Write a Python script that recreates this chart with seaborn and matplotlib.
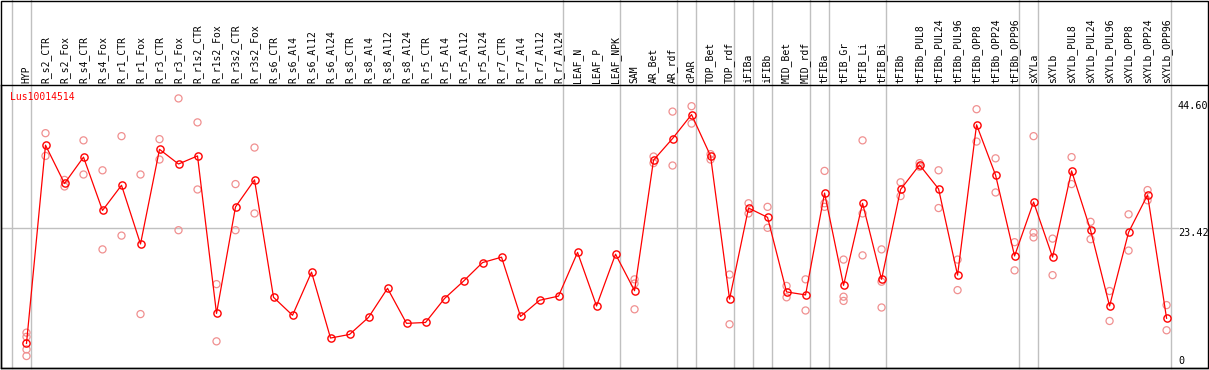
import matplotlib
matplotlib.use("Agg")
import matplotlib.pyplot as plt
from matplotlib.patches import Rectangle
import seaborn as sns
import pandas as pd

###############################################################################
# Data
###############################################################################

samples = [
    "HYP", "R_s2_CTR", "R_s2_Fox", "R_s4_CTR", "R_s4_Fox", "R_r1_CTR", "R_r1_Fox",
    "R_r3_CTR", "R_r3_Fox", "R_r1s2_CTR", "R_r1s2_Fox", "R_r3s2_CTR", "R_r3s2_Fox",
    "R_s6_CTR", "R_s6_Al4", "R_s6_Al12", "R_s6_Al24", "R_s8_CTR", "R_s8_Al4",
    "R_s8_Al12", "R_s8_Al24", "R_r5_CTR", "R_r5_Al4", "R_r5_Al12", "R_r5_Al24",
    "R_r7_CTR", "R_r7_Al4", "R_r7_Al12", "R_r7_Al24", "LEAF_N", "LEAF_P", "LEAF_NPK",
    "SAM", "AR_Bet", "AR_rdf", "cPAR", "TOP_Bet", "TOP_rdf", "iFIBa", "iFIBb",
    "MID_Bet", "MID_rdf", "tFIBa", "tFIB_Gr", "tFIB_Li", "tFIB_Bi", "tFIBb",
    "tFIBb_PUL8", "tFIBb_PUL24", "tFIBb_PUL96", "tFIBb_OPP8", "tFIBb_OPP24",
    "tFIBb_OPP96", "sXYLa", "sXYLb", "sXYLb_PUL8", "sXYLb_PUL24", "sXYLb_PUL96",
    "sXYLb_OPP8", "sXYLb_OPP24", "sXYLb_OPP96",
]

mean_expr = [
    4.1, 37.2, 30.8, 35.2, 26.3, 30.5, 20.7, 36.5, 34.05, 35.4, 9.1, 26.9, 31.4,
    11.8, 8.8, 16.0, 5.0, 5.6, 8.45, 13.3, 7.45, 7.6, 11.6, 14.5, 17.6, 18.5,
    8.6, 11.3, 12.0, 19.3, 10.35, 19.0, 12.9, 34.7, 38.3, 42.3, 35.4, 11.5,
    26.7, 25.15, 12.7, 12.2, 29.2, 13.8, 27.5, 14.8, 29.8, 33.9, 29.9, 15.5,
    40.6, 32.2, 18.7, 27.7, 18.5, 32.9, 23.0, 10.35, 22.65, 28.9, 8.3,
]

replicates = [
    [5.9, 5.2, 3.1, 2.0], [39.2, 35.4], [31.4, 30.3], [38.0, 32.3], [33.0, 19.8],
    [38.7, 22.1], [32.3, 9.0], [38.2, 34.8], [45.0, 23.0], [41.0, 29.8],
    [14.0, 4.45], [30.7, 23.0], [36.8, 25.8], [], [], [], [], [], [], [], [],
    [], [], [], [], [], [], [], [], [], [], [],
    [14.8, 14.1, 9.8], [35.3, 34.2], [42.8, 33.8], [43.7, 40.8], [35.7, 34.8],
    [15.6, 7.3], [27.5, 25.8], [26.9, 23.4], [13.7, 11.8], [14.8, 9.6],
    [32.9, 27.5, 26.9], [18.1, 11.9, 11.2], [38.0, 25.8, 18.8], [19.8, 14.4, 10.1],
    [31.0, 28.7], [34.2, 33.6], [33.0, 26.7], [18.1, 13.0], [43.2, 37.8],
    [35.0, 29.3], [21.0, 16.3], [38.7, 22.6, 21.8], [21.6, 15.5], [35.2, 30.7],
    [24.4, 21.5], [12.85, 7.85], [25.65, 19.6], [29.7, 28.0], [10.5, 6.3],
]

# sample index after which a group separator is drawn
group_ends = [-1, 0, 28, 31, 34, 35, 37, 38, 39, 41, 42, 45, 52, 53, 60]

gene = "Lus10014514"
scale_labels = ["44.60", "23.42", "0"]
scale_values = [44.60, 23.42, 0.4]

###############################################################################
# Plot
###############################################################################

plt.rcParams["font.family"] = ["DejaVu Sans Mono"]

means_df = pd.DataFrame({"pos": range(len(samples)), "value": mean_expr})
reps_df = pd.DataFrame(
    [(i, v) for i, reps in enumerate(replicates) for v in reps],
    columns=["pos", "value"],
)

fig = plt.figure(figsize=(12.09, 3.70), dpi=100)
ax = fig.add_axes([1 / 1209, 2 / 370, 1207 / 1209, 283 / 370])

ax.set_xlim(-1.342, 62.18)
ax.set_ylim(0, 47.24)

# group separators run up through the label area
for g in group_ends:
    ax.axvline(g + 0.22, ymin=0, ymax=368 / 283, color="#c0c0c0", lw=1,
               clip_on=False, zorder=1)
ax.axhline(23.42, xmin=0, xmax=0.975, color="#c0c0c0", lw=1, zorder=1)

sns.scatterplot(data=reps_df, x="pos", y="value", ax=ax, marker="o", s=26,
                facecolor="none", edgecolor="#f09090", linewidth=0.9, zorder=2)
sns.lineplot(data=means_df, x="pos", y="value", ax=ax, color="red", lw=0.9,
             marker="o", markersize=5.2, markerfacecolor="none",
             markeredgecolor="red", markeredgewidth=1.0, zorder=3)

ax.text(-0.87, 46.07, gene, color="red", fontsize=7, va="top", ha="left")
for lab, val in zip(scale_labels, scale_values):
    ax.text(60.6, val, lab, fontsize=7.3, va="bottom" if val < 1 else "top",
            ha="left", color="black")

ax.xaxis.tick_top()
ax.set_xticks(range(len(samples)))
ax.set_xticklabels(samples, rotation=90, fontsize=7)
ax.tick_params(axis="x", length=0, pad=1.5)
ax.set_yticks([])
ax.set_xlabel("")
ax.set_ylabel("")
for side in ["left", "bottom", "top"]:
    ax.spines[side].set_linewidth(1.0)
ax.spines["right"].set_visible(False)

# outer frame around labels and plot
fig.patches.append(Rectangle((1 / 1209, 2 / 370), 1207 / 1209, 367 / 370,
                             transform=fig.transFigure, fill=False,
                             edgecolor="black", lw=1.0))

fig.savefig("out.png", dpi=100)
